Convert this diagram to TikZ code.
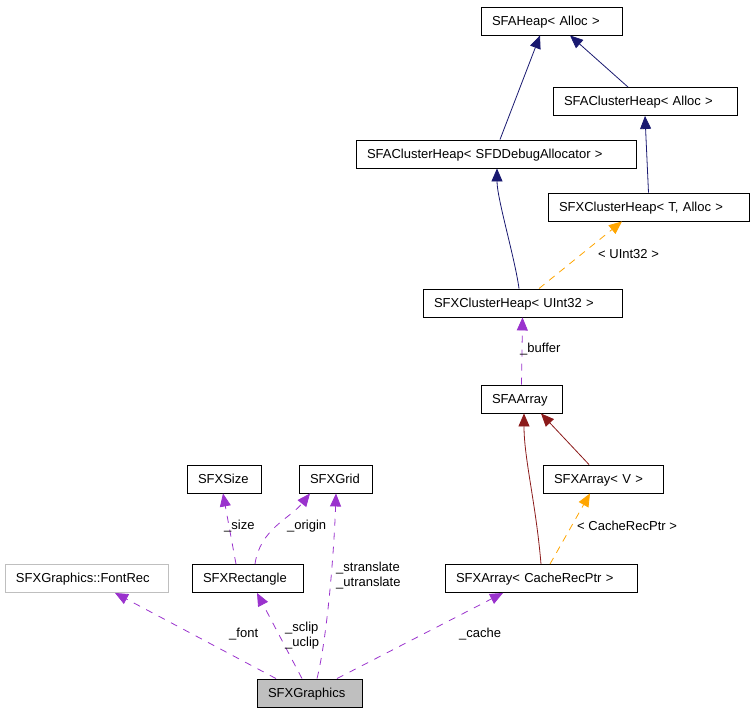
\documentclass[tikz,border=0pt]{standalone}
\usepackage{fontspec}
\setmainfont{Liberation Sans}
\usetikzlibrary{arrows.meta}
\definecolor{navyc}{HTML}{191970}
\definecolor{redc}{HTML}{8B1A1A}
\definecolor{orangec}{HTML}{FFA500}
\definecolor{purplec}{HTML}{9A32CD}
\definecolor{grayc}{HTML}{BFBFBF}
\tikzset{
  cls/.style={draw=black, line width=0.9pt, inner xsep=11pt, inner ysep=0pt, minimum height=28pt,
    text width=#1-22pt, align=left, text height=9.5pt, text depth=1pt, font=\fontsize{13}{14}\selectfont, fill=white},
  lbl/.style={anchor=west, inner sep=0pt, font=\fontsize{13}{15}\selectfont, align=left},
  tip/.style={-{Triangle[length=13pt,width=11pt]}},
  inh/.style={tip, navyc, line width=0.8pt},
  inr/.style={tip, redc, line width=0.8pt},
  tmpl/.style={tip, orangec, line width=0.8pt, dash pattern=on 7pt off 6pt},
  use/.style={tip, purplec, line width=0.8pt, dash pattern=on 7pt off 7pt},
}
\begin{document}
\begin{tikzpicture}[x=1pt,y=-1pt]
\useasboundingbox (0,0) rectangle (753,712);
% nodes
\node[cls=141pt] (heap) at (551.5,21) {SFAHeap< Alloc >};
\node[cls=184pt] (chA) at (645,101.5) {SFAClusterHeap< Alloc >};
\node[cls=280pt] (chSFD) at (496,154) {SFAClusterHeap< SFDDebugAllocator >};
\node[cls=201pt] (xchT) at (648.5,207) {SFXClusterHeap< T, Alloc >};
\node[cls=199pt] (xchU) at (522.5,303) {SFXClusterHeap< UInt32 >};
\node[cls=81pt] (sfaarr) at (521.5,399) {SFAArray};
\node[cls=120pt] (xarrV) at (603,479) {SFXArray< V >};
\node[cls=74pt] (size) at (224,479) {SFXSize};
\node[cls=73pt] (grid) at (335.5,479) {SFXGrid};
\node[cls=163pt, draw=grayc] (fontrec) at (86.5,578.5) {SFXGraphics::FontRec};
\node[cls=111pt] (rect) at (247.5,578.5) {SFXRectangle};
\node[cls=192pt] (xarrC) at (541,578.5) {SFXArray< CacheRecPtr >};
\node[cls=105pt, fill=grayc] (gfx) at (309.5,693) {SFXGraphics};
% inheritance
\draw[inh] ([xshift=4pt]chSFD.north) -- ([xshift=-11.5pt]heap.south);
\draw[inh] ([xshift=-17pt]chA.north) -- ([xshift=18.5pt]heap.south);
\draw[inh] (xchT.north) -- (chA.south);
\draw[inh] ([xshift=-3.5pt]xchU.north) .. controls +(-4,-30) and +(0,30) .. ([xshift=1pt]chSFD.south);
\draw[tmpl] ([xshift=16.5pt]xchU.north) -- ([xshift=-26.5pt]xchT.south);
\node[lbl] (lU) at (598,254) {< UInt32 >};
\draw[use] (sfaarr.north) -- (xchU.south);
\node[lbl] (lbuf) at (520,349) {\_buffer};
\draw[inr] (xarrC.north) .. controls +(-5,-60) and +(0,45) .. ([xshift=2.5pt]sfaarr.south);
\draw[inr] ([xshift=-14pt]xarrV.north) -- ([xshift=19.5pt]sfaarr.south);
\draw[tmpl] ([xshift=9pt]xarrC.north) -- ([xshift=-13pt]xarrV.south);
\node[lbl] (lCRP) at (577,526) {< CacheRecPtr >};
% usage
\draw[use] ([xshift=-11.5pt]rect.north) -- ([xshift=-1pt]size.south);
\node[lbl] (lsize) at (224,526) {\_size};
\draw[use] ([xshift=7.5pt]rect.north) .. controls +(5,-35) and +(-20,25) .. ([xshift=-25.5pt]grid.south);
\node[lbl] (lorig) at (287,526) {\_origin};
\draw[use] ([xshift=7.5pt]gfx.north) .. controls +(10,-40) and +(-2,60) .. ([xshift=0.5pt]grid.south);
\node[lbl] (ltr) at (336,576) {\_stranslate\\\_utranslate};
\draw[use] ([xshift=-33.5pt]gfx.north) -- ([xshift=28.5pt]fontrec.south);
\node[lbl] (lfont) at (229,634) {\_font};
\draw[use] ([xshift=-7.5pt]gfx.north) -- ([xshift=9.5pt]rect.south);
\node[lbl] (lclip) at (285,635.5) {\_sclip\\\_uclip};
\draw[use] ([xshift=27.5pt]gfx.north) -- ([xshift=-38pt]xarrC.south);
\node[lbl] (lcache) at (459,634) {\_cache};
\end{tikzpicture}
\end{document}
